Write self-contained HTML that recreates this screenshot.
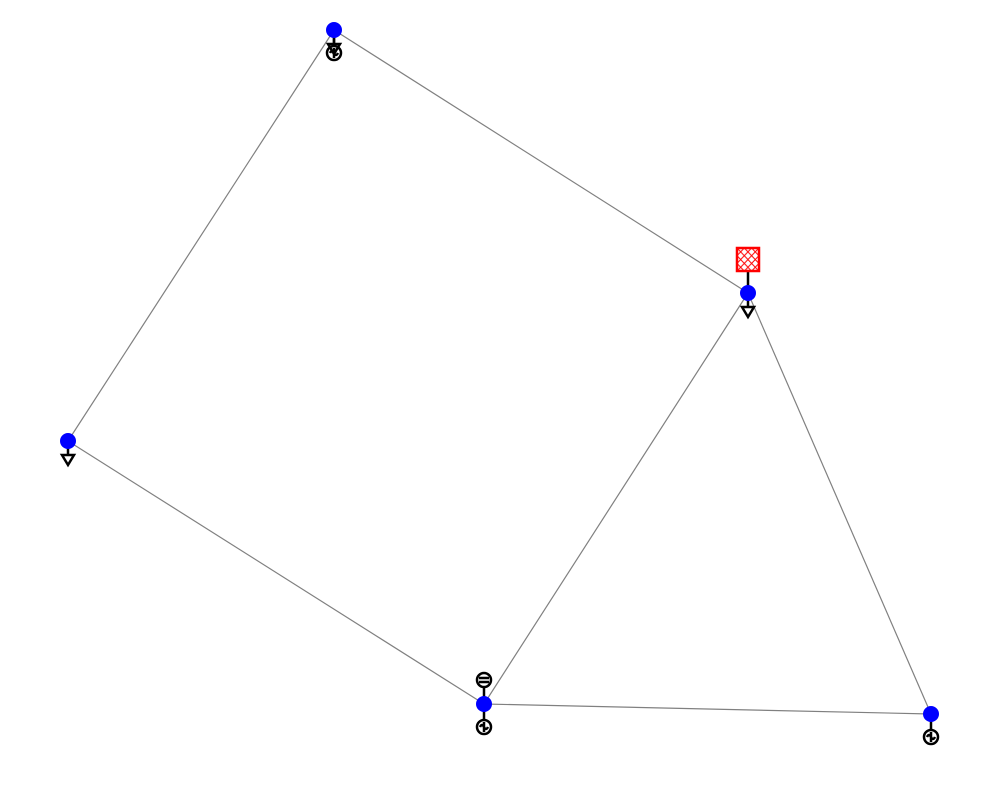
<!DOCTYPE html>
<html><head><meta charset="utf-8"><style>body{margin:0;background:#fff}svg{display:block}</style></head>
<body>
<svg id="c" width="1000" height="800" xmlns="http://www.w3.org/2000/svg">
<defs><pattern id="hatch" x="737" y="248" width="7.3" height="7.7" patternUnits="userSpaceOnUse"><path d="M0,0L7.3,7.7M7.3,0L0,7.7" stroke="#f00" stroke-width="1"/></pattern></defs>
</svg>
<script>
const busX=[334,748,68,484,931];
const busY=[30,293,441,704,714];
const lineFrom=[0,0,2,3,1,3];
const lineTo=[1,2,3,1,4,4];
const loadBuses=[0,1,2];
const genBuses=[0,3,4];
const sgenBuses=[3];
const extGridBuses=[1];
const svg=document.getElementById('c');
const NS='http://www.w3.org/2000/svg';
function mk(t,a,p){const e=document.createElementNS(NS,t);for(const k in a)e.setAttribute(k,a[k]);(p||svg).appendChild(e);return e;}
lineFrom.forEach((f,i)=>{const t=lineTo[i];
const l=mk('line',{x1:busX[f],y1:busY[f],x2:busX[t],y2:busY[t],stroke:'#808080','stroke-width':1.2});

});
const st={stroke:'#000','stroke-width':2.5,fill:'none'};
loadBuses.forEach(b=>{const x=busX[b],y=busY[b];const g=mk('g',{});


mk('line',Object.assign({x1:x,y1:y,x2:x,y2:y+14},st),g);
mk('path',Object.assign({d:`M${x-6},${y+14}L${x+6},${y+14}L${x},${y+24}Z`},st),g);});
genBuses.forEach(b=>{const x=busX[b],y=busY[b];const g=mk('g',{});


mk('line',Object.assign({x1:x,y1:y,x2:x,y2:y+16},st),g);
mk('circle',Object.assign({cx:x,cy:y+23,r:7},st),g);
mk('path',Object.assign({d:`M${x-4},${y+23}q2,-4 4,0t4,0M${x},${y+18}L${x},${y+28}`},st),g);});
sgenBuses.forEach(b=>{const x=busX[b],y=busY[b];const g=mk('g',{});


mk('line',Object.assign({x1:x,y1:y,x2:x,y2:y-17},st),g);
mk('circle',Object.assign({cx:x,cy:y-24,r:7},st),g);
mk('path',Object.assign({d:`M${x-5},${y-26}L${x+5},${y-26}M${x-5},${y-22}L${x+5},${y-22}`},st),g);});
extGridBuses.forEach(b=>{const x=busX[b],y=busY[b];const g=mk('g',{});


mk('line',Object.assign({x1:x,y1:y,x2:x,y2:y-22},st),g);
mk('rect',{x:x-11,y:y-45,width:22,height:23,fill:'url(#hatch)',stroke:'#f00','stroke-width':2.5},g);});
busX.forEach((x,i)=>{const c=mk('circle',{cx:x,cy:busY[i],r:8,fill:'#0000ff'});

});
</script>
</body></html>
